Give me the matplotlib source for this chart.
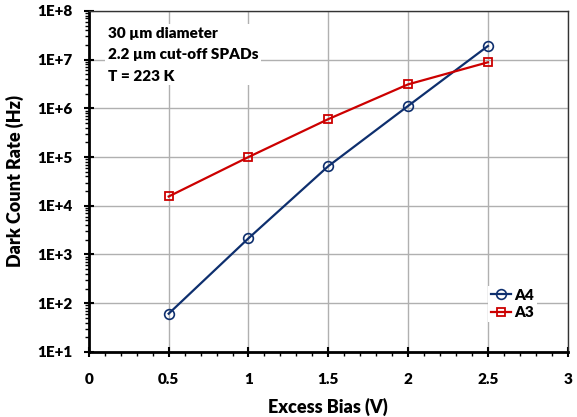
import matplotlib.pyplot as plt
from matplotlib.ticker import FixedLocator, FuncFormatter, LogLocator, MultipleLocator
import numpy as np

# Data
bias = [0.5, 1.0, 1.5, 2.0, 2.5]
dcr_a4 = [61, 2150, 65000, 1.12e6, 1.9e7]
dcr_a3 = [15500, 1.0e5, 6.0e5, 3.1e6, 8.8e6]
x_ticks = [0, 0.5, 1, 1.5, 2, 2.5, 3]
x_ticklabels = ['0', '0.5', '1', '1.5', '2', '2.5', '3']
note_lines = ['30 \u00b5m diameter', '2.2 \u00b5m cut-off SPADs', 'T = 223 K']

plt.rcParams['font.family'] = ['Lato', 'DejaVu Sans']
W = 'heavy'

fig = plt.figure(figsize=(5.77, 4.17), dpi=100)
ax = fig.add_axes([0.154, 0.156, 0.830, 0.818])

navy = '#0e2f6e'
red = '#cc0000'
ax.plot(bias, dcr_a4, color=navy, lw=1.6, marker='o', ms=7, mfc='none', mec=navy, mew=1.2, label='A4', zorder=3)
ax.plot(bias, dcr_a3, color=red, lw=1.6, marker='s', ms=6, mfc='none', mec=red, mew=1.3, label='A3', zorder=3)

ax.set_yscale('log')
ax.set_ylim(10, 1e8)
ax.set_xlim(0, 3)

ax.xaxis.set_major_locator(FixedLocator(x_ticks))
ax.set_xticklabels(x_ticklabels)
ax.xaxis.set_minor_locator(MultipleLocator(0.1))
ax.yaxis.set_major_locator(LogLocator(base=10, numticks=10))
ax.yaxis.set_minor_locator(LogLocator(base=10, subs=np.arange(2, 10), numticks=20))
ax.yaxis.set_major_formatter(FuncFormatter(lambda v, p: '1E+%d' % round(np.log10(v))))
ax.yaxis.set_minor_formatter(FuncFormatter(lambda v, p: ''))

ax.grid(True, which='major', color='#b0b0b0', lw=1.0)
ax.set_axisbelow(True)

ax.tick_params(axis='both', which='major', direction='inout', length=7, width=1.5,
               labelsize=11, colors='black', pad=8)
ax.tick_params(axis='both', which='minor', direction='out', length=3, width=1.0)
ax.tick_params(axis='x', which='major', pad=12)
for lab in ax.get_xticklabels() + ax.get_yticklabels():
    lab.set_fontweight(W)

ax.spines['left'].set_linewidth(2)
ax.spines['bottom'].set_linewidth(2)
ax.spines['top'].set_linewidth(1)
ax.spines['right'].set_linewidth(1)
ax.spines['top'].set_color('#333333')
ax.spines['right'].set_color('#333333')

ax.set_xlabel('Excess Bias (V)', fontsize=13, fontweight=W, labelpad=8)
ax.set_ylabel('Dark Count Rate (Hz)', fontsize=13, fontweight=W, labelpad=10)

ax.text(0.04, 0.952, '\n'.join(note_lines), transform=ax.transAxes, fontsize=11,
        fontweight=W, va='top', ha='left', linespacing=1.75,
        bbox=dict(facecolor='white', edgecolor='none', pad=2))

leg = ax.legend(loc='lower right', bbox_to_anchor=(0.935, 0.087), frameon=True,
                facecolor='white', edgecolor='none', framealpha=1, fancybox=False,
                fontsize=11, handlelength=1.3, handletextpad=0.2, labelspacing=0.3,
                borderaxespad=0, borderpad=0.2)
for t in leg.get_texts():
    t.set_fontweight(W)

fig.savefig('out.png', dpi=100)
